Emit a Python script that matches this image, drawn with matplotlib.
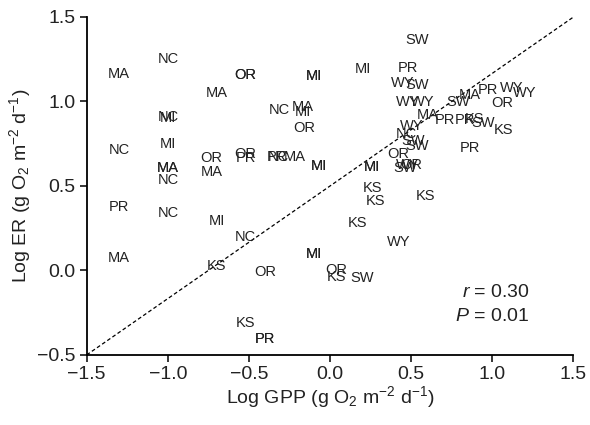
import numpy as np
import matplotlib
matplotlib.use("Agg")
import matplotlib.pyplot as plt

plt.rcParams["font.family"] = ["Liberation Sans", "DejaVu Sans"]
plt.rcParams["mathtext.fontset"] = "custom"
plt.rcParams["mathtext.rm"] = "Liberation Sans"
plt.rcParams["mathtext.it"] = "Liberation Sans:italic"

# --- site labels with log GPP / log ER ---
sites = [
    "MA", "NC", "OR", "OR", "MI", "MI", "MA", "NC", "MA", "MI", "OR",
    "NC", "MI", "NC", "MI", "MA", "MA", "NC", "OR", "MA", "OR", "PR",
    "PR", "NC", "MA", "MI", "MI",
    "PR", "NC", "MI", "NC", "MA", "KS", "OR", "MI", "MI", "OR", "KS",
    "SW", "KS", "PR", "PR",
    "SW", "MI", "PR", "WY", "SW", "WY", "WY", "SW", "MA", "PR", "WY",
    "WY", "OR", "MA", "WY", "NC", "PR", "PR", "KS", "SW", "KS",
    "SW", "SW", "OR", "PR", "MI", "MI", "SW", "WY", "OR",
    "KS", "KS", "KS", "KS", "WY",
]
log_gpp = [
    -1.30, -1.00, -0.52, -0.52, -0.10, -0.10, -0.70, -0.31, -0.17, -0.17, -0.16,
    -1.00, -1.00, -1.30, -1.00, -1.00, -1.00, -1.00, -0.73, -0.73, -0.52, -0.52,
    -0.33, -0.32, -0.22, -0.07, -0.07,
    -1.30, -1.00, -0.70, -0.52, -1.30, -0.70, -0.40, -0.10, -0.10, 0.04, 0.04,
    0.20, -0.52, -0.40, -0.40,
    0.535, 0.20, 0.48, 0.445, 0.535, 0.48, 0.57, 0.79, 0.86, 0.975, 1.12,
    1.20, 1.06, 0.60, 0.50, 0.47, 0.71, 0.83, 0.89, 0.94, 1.07,
    0.51, 0.535, 0.42, 0.86, 0.26, 0.26, 0.46, 0.48, 0.50,
    0.26, 0.28, 0.59, 0.17, 0.425,
]
log_er = [
    1.163, 1.25, 1.157, 1.157, 1.15, 1.15, 1.05, 0.95, 0.965, 0.935, 0.843,
    0.908, 0.905, 0.713, 0.75, 0.607, 0.607, 0.535, 0.666, 0.583, 0.69, 0.665,
    0.67, 0.67, 0.67, 0.618, 0.618,
    0.376, 0.34, 0.29, 0.198, 0.074, 0.027, -0.01, 0.10, 0.10, 0.003, -0.04,
    -0.045, -0.31, -0.405, -0.405,
    1.364, 1.19, 1.20, 1.11, 1.10, 0.997, 0.997, 0.997, 1.04, 1.07, 1.08,
    1.05, 0.99, 0.92, 0.855, 0.81, 0.89, 0.89, 0.896, 0.87, 0.83,
    0.766, 0.737, 0.69, 0.725, 0.61, 0.61, 0.607, 0.625, 0.625,
    0.49, 0.41, 0.44, 0.28, 0.17,
]

# fitted line
line_x = [-1.5, 1.5]
line_y = [-0.5, 1.5]

fig = plt.figure(figsize=(5.9, 4.25), dpi=100)
ax = fig.add_axes([0.147, 0.165, 0.825, 0.795])

for s, gx, ey in zip(sites, log_gpp, log_er):
    ax.text(gx, ey, s, ha="center", va="center", fontsize=10.5, color="#222222")

ax.plot(line_x, line_y, ls=(0, (3, 2)), color="black", lw=0.9)

ax.set_xlim(-1.5, 1.5)
ax.set_ylim(-0.5, 1.5)
ax.set_xticks(np.arange(-1.5, 1.51, 0.5))
ax.set_yticks(np.arange(-0.5, 1.51, 0.5))

for side in ["top", "right"]:
    ax.spines[side].set_visible(False)
for side in ["left", "bottom"]:
    ax.spines[side].set_linewidth(1.3)
ax.tick_params(direction="out", length=5, width=1.1, labelsize=14, pad=3,
               labelcolor="#222222")

ax.set_xlabel("Log GPP (g O$_2$ m$^{-2}$ d$^{-1}$)", fontsize=14, labelpad=1,
              color="#222222")
ax.set_ylabel("Log ER (g O$_2$ m$^{-2}$ d$^{-1}$)", fontsize=14, labelpad=3,
              color="#222222")

ax.text(0.91, 0.186, "$r$ = 0.30", transform=ax.transAxes, ha="right",
        va="center", fontsize=14, color="#222222")
ax.text(0.91, 0.115, "$P$ = 0.01", transform=ax.transAxes, ha="right",
        va="center", fontsize=14, color="#222222")

plt.savefig("out.png", dpi=100)
